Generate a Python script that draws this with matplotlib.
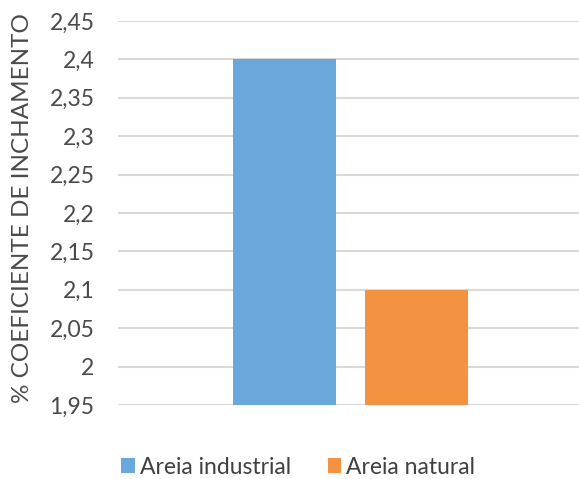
import matplotlib.pyplot as plt
import numpy as np

plt.rcParams['font.family'] = ['Lato', 'DejaVu Sans']

# Coeficiente de inchamento por tipo de areia
series = ['Areia industrial', 'Areia natural']
values = [2.4, 2.1]
colors = ['#6aa8dc', '#f39240']
yticks = [1.95, 2.0, 2.05, 2.1, 2.15, 2.2, 2.25, 2.3, 2.35, 2.4, 2.45]

fig = plt.figure(figsize=(5.79, 4.79), dpi=100)
ax = fig.add_axes([118/579, 1 - 405/479, 465/579, (405 - 21)/479])

width = 0.2215
offsets = [-0.142, 0.142]
for name, v, c, off in zip(series, values, colors, offsets):
    ax.bar(off, v - yticks[0], width, bottom=yticks[0], color=c,
           label=name, zorder=3)

ax.set_xlim(-0.5, 0.5)
ax.set_ylim(yticks[0], yticks[-1])
ax.set_yticks(yticks)
ax.set_yticklabels([('%g' % t).replace('.', ',') for t in yticks],
                   fontsize=16.5, color='#4a4a4a')
ax.set_xticks([])
ax.tick_params(axis='y', length=0, pad=17)
ax.grid(axis='y', color='#d9d9d9', linewidth=1.5, zorder=0)
for s in ax.spines.values():
    s.set_visible(False)

ax.set_ylabel('% COEFICIENTE DE INCHAMENTO', fontsize=17.5,
              color='#4a4a4a')
ax.yaxis.set_label_coords(-0.182, 0.513)

fig.legend(loc='center', bbox_to_anchor=(0.515, 1 - 467/479), ncol=2,
           frameon=False, fontsize=16.5, handlelength=0.6, handleheight=0.6,
           handletextpad=0.2, columnspacing=1.6, labelcolor='#404040')

fig.savefig('out.png', dpi=100)
